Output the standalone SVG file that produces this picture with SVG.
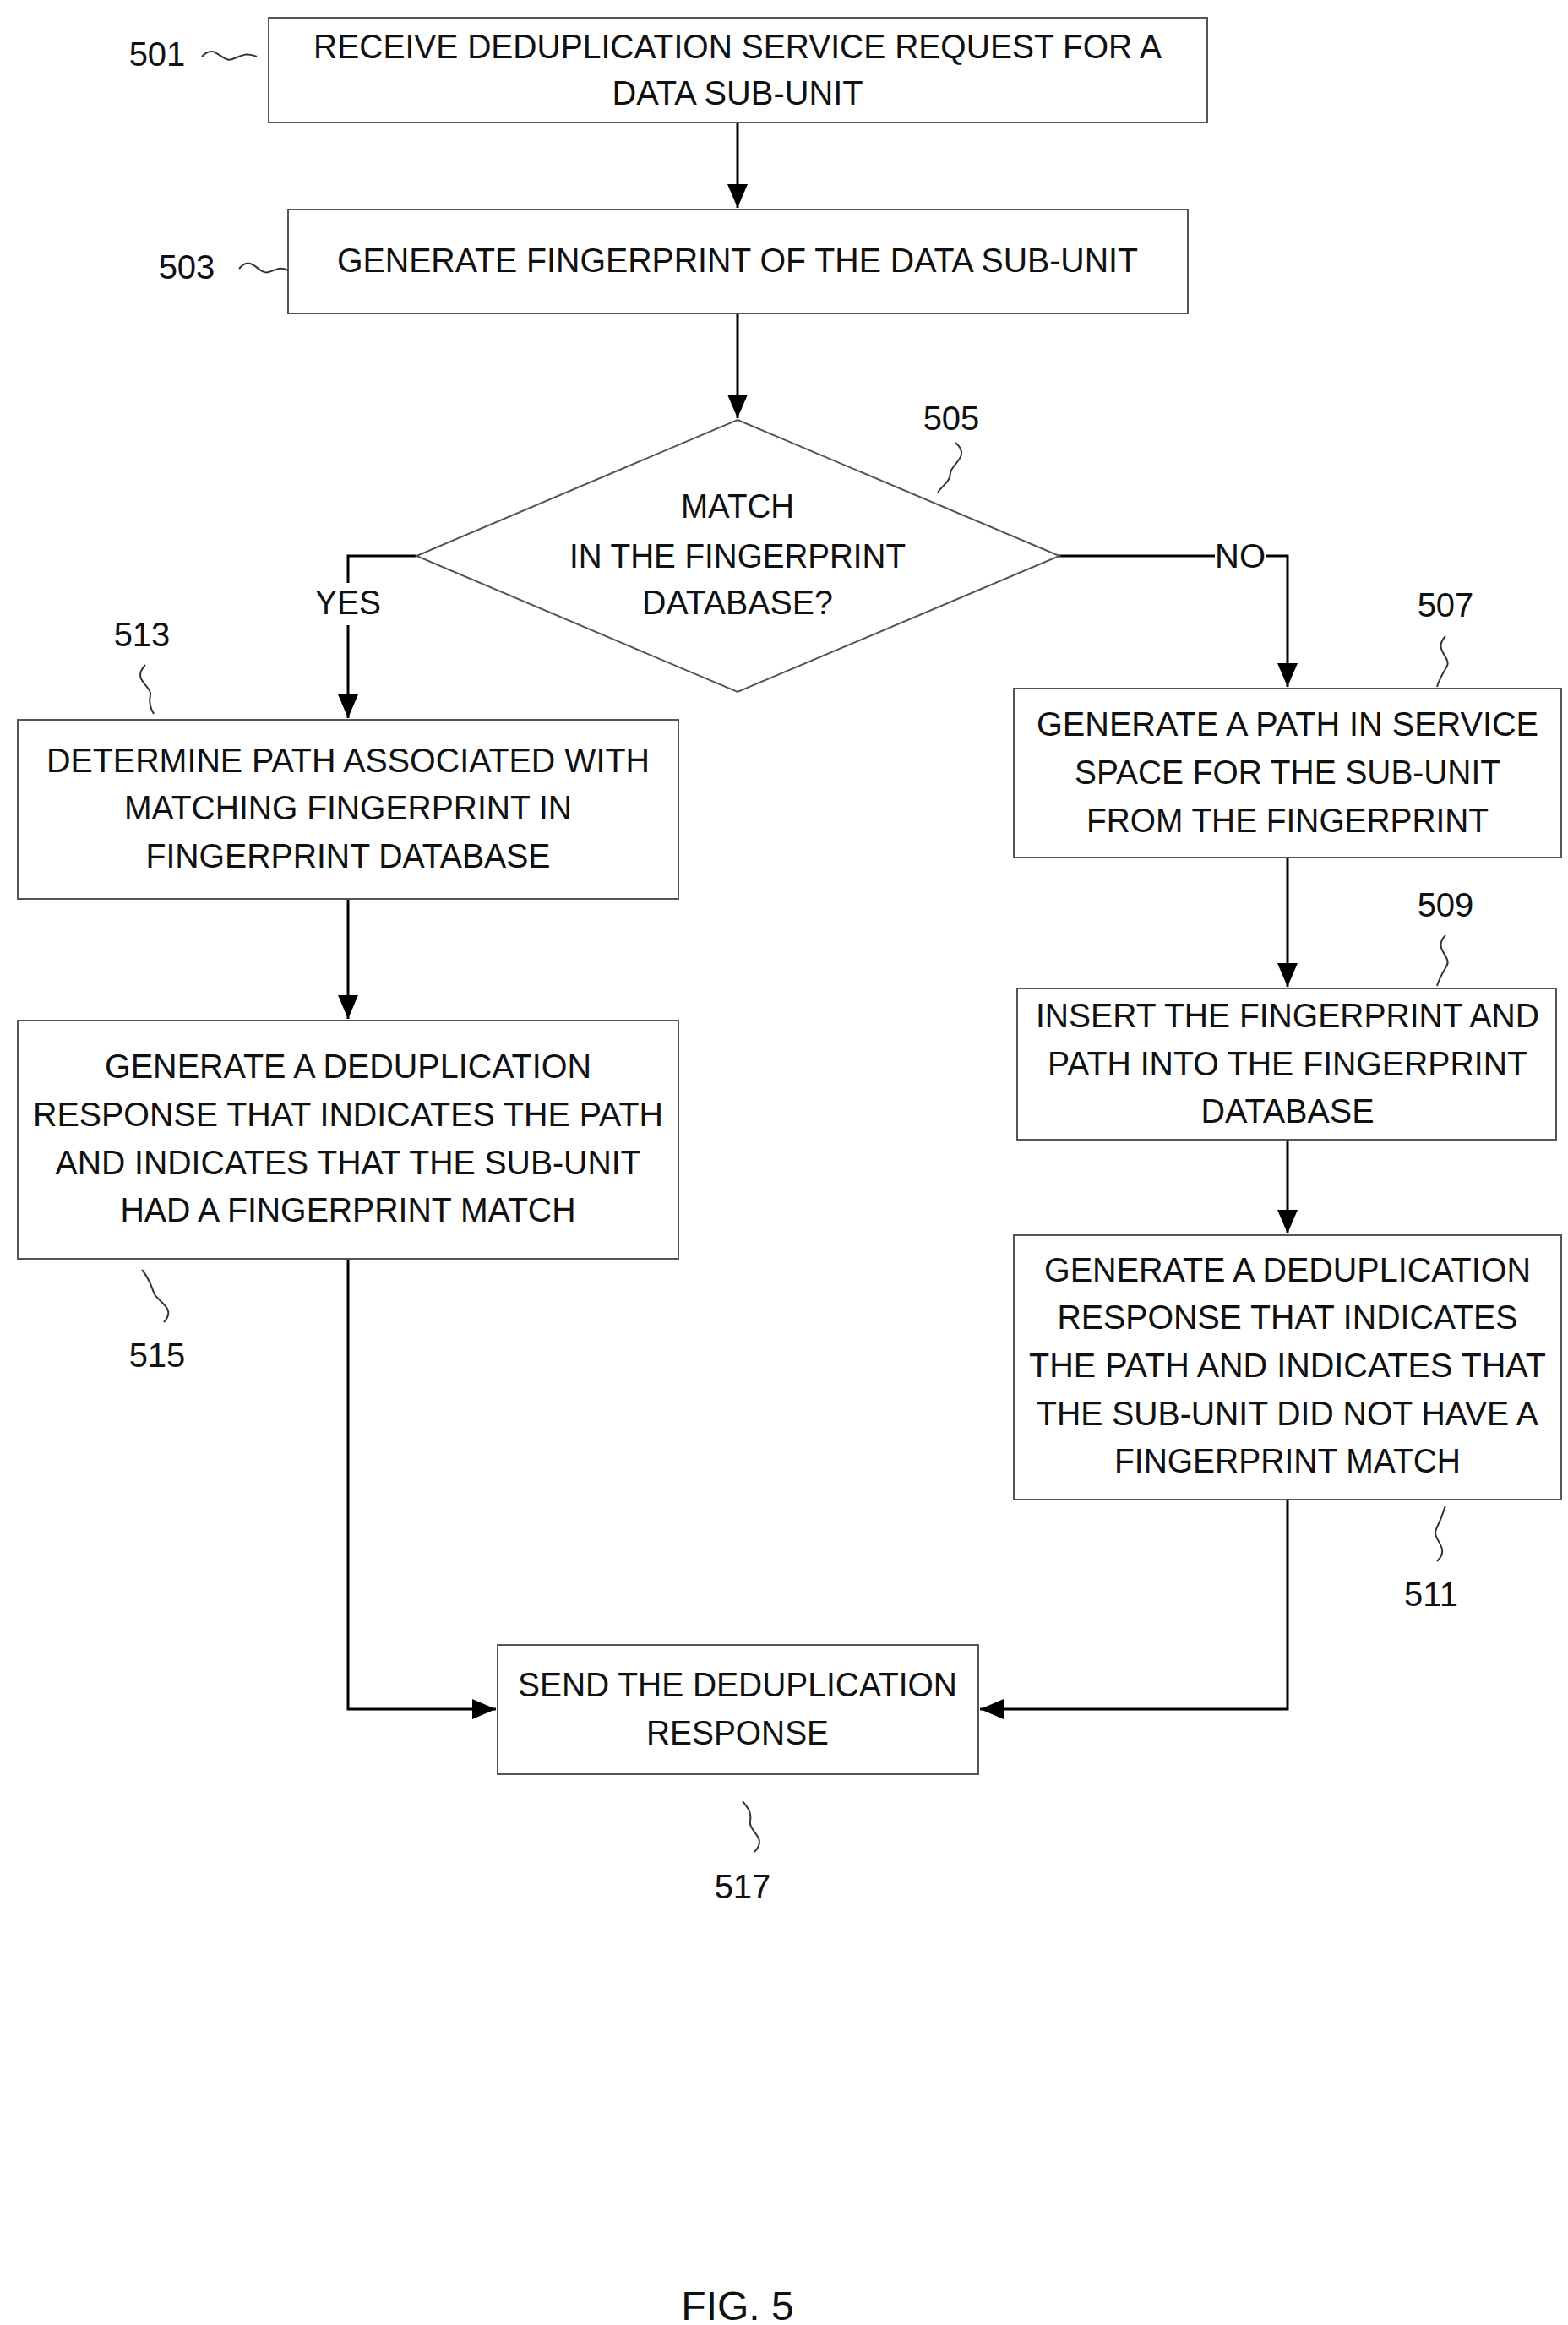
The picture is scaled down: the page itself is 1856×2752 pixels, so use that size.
<svg xmlns="http://www.w3.org/2000/svg" width="1856" height="2752" viewBox="0 0 1856 2752">
<defs>
<marker id="ah" markerWidth="10" markerHeight="10" refX="9" refY="5" orient="auto" markerUnits="userSpaceOnUse" viewBox="0 0 10 10"><path d="M0,0 L10,5 L0,10 z" fill="#000"/></marker>
<marker id="a" markerWidth="30" markerHeight="30" refX="28" refY="12" orient="auto" markerUnits="userSpaceOnUse"><path d="M0,0 L28,12 L0,24 z" fill="#000"/></marker>
</defs>
<style>
.b{fill:#fff;stroke:#555;stroke-width:2}
.t{font-family:"Liberation Sans",Arial,sans-serif;font-size:40px;fill:#111;text-anchor:middle}
.l{font-family:"Liberation Sans",Arial,sans-serif;font-size:40px;fill:#111;text-anchor:middle}
.c{fill:none;stroke:#000;stroke-width:3}
.s{fill:none;stroke:#333;stroke-width:2}
</style>
<rect width="1856" height="2752" fill="#fff"/>
<g id="connectors">
<path class="c" d="M873,145 V246" marker-end="url(#a)"/>
<path class="c" d="M873,371 V495" marker-end="url(#a)"/>
<path class="c" d="M493,658 H412 V690 M412,740 V850" marker-end="url(#a)"/>
<path class="c" d="M1254,658 H1438 M1498,658 H1524 V813" marker-end="url(#a)"/>
<path class="c" d="M412,1064 V1206" marker-end="url(#a)"/>
<path class="c" d="M1524,1015 V1168" marker-end="url(#a)"/>
<path class="c" d="M1524,1349 V1460" marker-end="url(#a)"/>
<path class="c" d="M412,1490 V2023 H587" marker-end="url(#a)"/>
<path class="c" d="M1524,1775 V2023 H1160" marker-end="url(#a)"/>
<text class="t" x="412" y="727" textLength="78" lengthAdjust="spacingAndGlyphs">YES</text>
<text class="t" x="1468" y="672" textLength="60" lengthAdjust="spacingAndGlyphs">NO</text>
</g>
<g id="n501"><rect class="b" x="318" y="21" width="1111" height="124"/>
<text class="t" x="873" y="69" textLength="1004" lengthAdjust="spacingAndGlyphs">RECEIVE DEDUPLICATION SERVICE REQUEST FOR A</text>
<text class="t" x="873" y="124" textLength="297" lengthAdjust="spacingAndGlyphs">DATA SUB-UNIT</text>
<text class="l" x="186" y="78">501</text><path class="s" d="M239,67 C255,50 262,75 275,70 C288,65 292,62 304,67"/></g>
<g id="n503"><rect class="b" x="341" y="248" width="1065" height="123"/>
<text class="t" x="873" y="322" textLength="948" lengthAdjust="spacingAndGlyphs">GENERATE FINGERPRINT OF THE DATA SUB-UNIT</text>
<text class="l" x="221" y="330">503</text><path class="s" d="M283,318 C298,300 306,326 318,322 C330,318 332,316 341,320"/></g>
<g id="n505"><polygon class="b" points="873,497 1254,658 873,819 493,658"/>
<text class="t" x="873" y="613" textLength="134" lengthAdjust="spacingAndGlyphs">MATCH</text>
<text class="t" x="873" y="672" textLength="398" lengthAdjust="spacingAndGlyphs">IN THE FINGERPRINT</text>
<text class="t" x="873" y="727" textLength="226" lengthAdjust="spacingAndGlyphs">DATABASE?</text>
<text class="l" x="1126" y="509">505</text><path class="s" d="M1131,524 C1150,540 1125,550 1125,560 C1125,570 1115,575 1110,583"/></g>
<g id="n513"><rect class="b" x="21" y="852" width="782" height="212"/>
<text class="t" x="412" y="914" textLength="714" lengthAdjust="spacingAndGlyphs">DETERMINE PATH ASSOCIATED WITH</text>
<text class="t" x="412" y="970" textLength="530" lengthAdjust="spacingAndGlyphs">MATCHING FINGERPRINT IN</text>
<text class="t" x="412" y="1027" textLength="479" lengthAdjust="spacingAndGlyphs">FINGERPRINT DATABASE</text>
<text class="l" x="168" y="765">513</text><path class="s" d="M172,787 C155,805 180,812 178,822 C176,832 178,838 182,845"/></g>
<g id="n515"><rect class="b" x="21" y="1208" width="782" height="282"/>
<text class="t" x="412" y="1276" textLength="576" lengthAdjust="spacingAndGlyphs">GENERATE A DEDUPLICATION</text>
<text class="t" x="412" y="1333" textLength="746" lengthAdjust="spacingAndGlyphs">RESPONSE THAT INDICATES THE PATH</text>
<text class="t" x="412" y="1390" textLength="693" lengthAdjust="spacingAndGlyphs">AND INDICATES THAT THE SUB-UNIT</text>
<text class="t" x="412" y="1446" textLength="539" lengthAdjust="spacingAndGlyphs">HAD A FINGERPRINT MATCH</text>
<text class="l" x="186" y="1618">515</text><path class="s" d="M194,1565 C210,1548 185,1540 182,1530 C178,1518 174,1510 168,1503"/></g>
<g id="n507"><rect class="b" x="1200" y="815" width="648" height="200"/>
<text class="t" x="1524" y="871" textLength="594" lengthAdjust="spacingAndGlyphs">GENERATE A PATH IN SERVICE</text>
<text class="t" x="1524" y="928" textLength="504" lengthAdjust="spacingAndGlyphs">SPACE FOR THE SUB-UNIT</text>
<text class="t" x="1524" y="985" textLength="476" lengthAdjust="spacingAndGlyphs">FROM THE FINGERPRINT</text>
<text class="l" x="1711" y="730">507</text><path class="s" d="M1711,753 C1695,770 1720,778 1712,790 C1706,800 1703,806 1701,813"/></g>
<g id="n509"><rect class="b" x="1204" y="1170" width="638" height="179"/>
<text class="t" x="1524" y="1216" textLength="596" lengthAdjust="spacingAndGlyphs">INSERT THE FINGERPRINT AND</text>
<text class="t" x="1524" y="1273" textLength="568" lengthAdjust="spacingAndGlyphs">PATH INTO THE FINGERPRINT</text>
<text class="t" x="1524" y="1329" textLength="205" lengthAdjust="spacingAndGlyphs">DATABASE</text>
<text class="l" x="1711" y="1085">509</text><path class="s" d="M1711,1107 C1695,1124 1720,1132 1712,1144 C1706,1154 1703,1160 1701,1167"/></g>
<g id="n511"><rect class="b" x="1200" y="1462" width="648" height="313"/>
<text class="t" x="1524" y="1517" textLength="576" lengthAdjust="spacingAndGlyphs">GENERATE A DEDUPLICATION</text>
<text class="t" x="1524" y="1573" textLength="545" lengthAdjust="spacingAndGlyphs">RESPONSE THAT INDICATES</text>
<text class="t" x="1524" y="1630" textLength="612" lengthAdjust="spacingAndGlyphs">THE PATH AND INDICATES THAT</text>
<text class="t" x="1524" y="1687" textLength="594" lengthAdjust="spacingAndGlyphs">THE SUB-UNIT DID NOT HAVE A</text>
<text class="t" x="1524" y="1743" textLength="410" lengthAdjust="spacingAndGlyphs">FINGERPRINT MATCH</text>
<text class="l" x="1694" y="1901">511</text><path class="s" d="M1701,1848 C1718,1832 1694,1822 1700,1810 C1705,1800 1708,1792 1711,1782"/></g>
<g id="n517"><rect class="b" x="589" y="1947" width="569" height="153"/>
<text class="t" x="873" y="2008" textLength="520" lengthAdjust="spacingAndGlyphs">SEND THE DEDUPLICATION</text>
<text class="t" x="873" y="2065" textLength="216" lengthAdjust="spacingAndGlyphs">RESPONSE</text>
<text class="l" x="879" y="2247">517</text><path class="s" d="M893,2192 C910,2175 885,2168 888,2155 C890,2145 884,2138 879,2132"/></g>
<text class="l" x="873" y="2746" style="font-size:48px">FIG. 5</text>
</svg>
